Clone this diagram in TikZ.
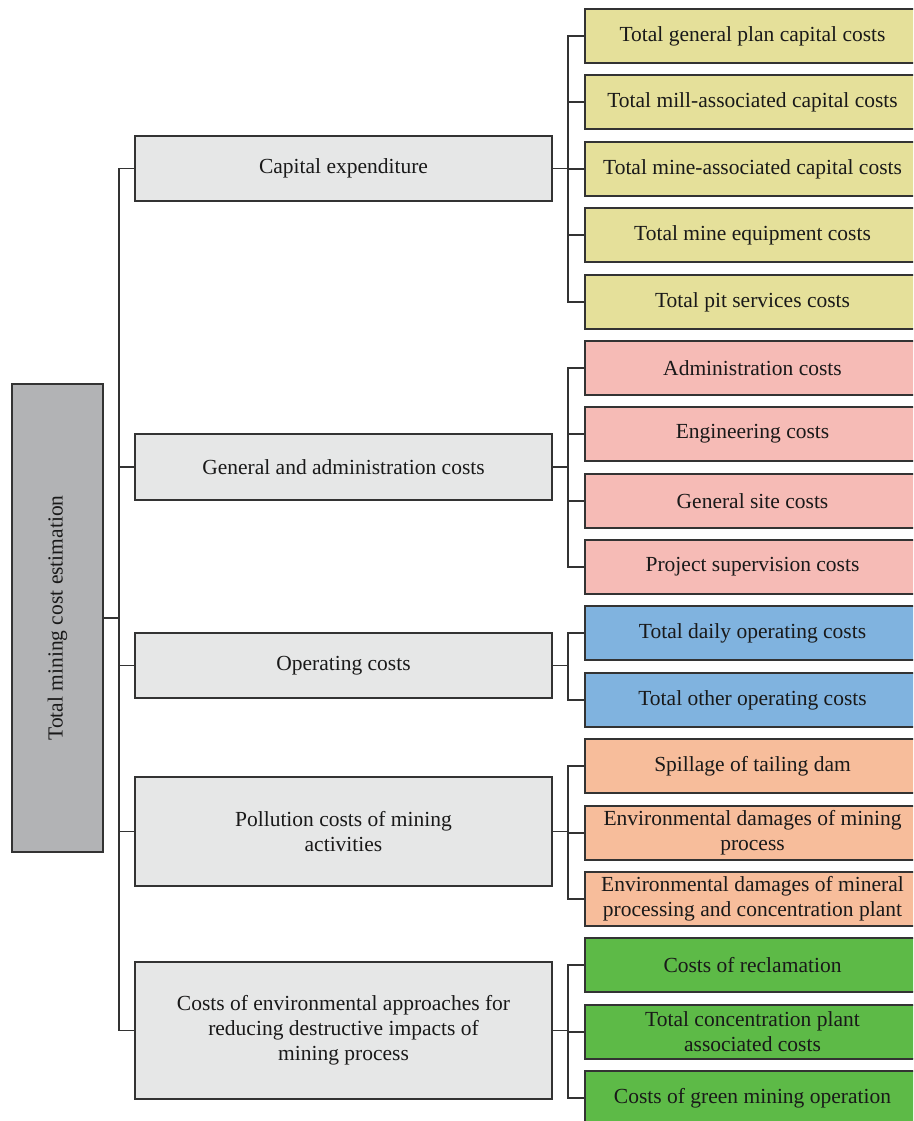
\documentclass[tikz,border=0pt]{standalone}
\usepackage{fontspec}
\setmainfont{Liberation Serif}
\definecolor{cyel}{HTML}{E5E09A}
\definecolor{cpink}{HTML}{F6BBB6}
\definecolor{cblue}{HTML}{80B3DF}
\definecolor{corange}{HTML}{F7BD9B}
\definecolor{cgreen}{HTML}{5DBA47}
\definecolor{cmid}{HTML}{E6E7E7}
\definecolor{cleft}{HTML}{B2B3B5}
\definecolor{cline}{HTML}{333333}
\begin{document}
\begin{tikzpicture}[x=1pt,y=-1pt,
  base/.style={draw=cline,line width=1.2pt,rectangle,inner sep=2pt,align=center,
     font=\fontsize{21.5}{25}\selectfont,text=black!90},
  leaf/.style={base,minimum width=335pt,minimum height=54pt},
  mid/.style={base,fill=cmid,minimum width=417pt},
  conn/.style={draw=cline,line width=1.2pt}]
\useasboundingbox (0,0) rectangle (913,1121);
\clip (0,0) rectangle (913,1121);
% root
\node[base,fill=cleft,minimum width=91pt,minimum height=468pt] (root) at (57.5,618) {};
\node[rotate=90,font=\fontsize{21.5}{25}\selectfont,text=black!90] (rootlabel) at (root.center) {Total mining cost estimation};
% middle
\node[mid,minimum height=65pt] (cap) at (343.5,168.5) {Capital expenditure};
\node[mid,minimum height=66pt] (gen) at (343.5,467) {General and administration costs};
\node[mid,minimum height=65pt] (op) at (343.5,665.5) {Operating costs};
\node[mid,minimum height=109pt] (pol) at (343.5,831.5) {Pollution costs of mining\\activities};
\node[mid,minimum height=137pt] (env) at (343.5,1030.5) {Costs of environmental approaches for\\reducing destructive impacts of\\mining process};
% leaves
\node[leaf,fill=cyel] (y1) at (752.5,36) {Total general plan capital costs};
\node[leaf,fill=cyel] (y2) at (752.5,102) {Total mill-associated capital costs};
\node[leaf,fill=cyel] (y3) at (752.5,169) {Total mine-associated capital costs};
\node[leaf,fill=cyel] (y4) at (752.5,235) {Total mine equipment costs};
\node[leaf,fill=cyel] (y5) at (752.5,302) {Total pit services costs};
\node[leaf,fill=cpink] (p1) at (752.5,368) {Administration costs};
\node[leaf,fill=cpink] (p2) at (752.5,434) {Engineering costs};
\node[leaf,fill=cpink] (p3) at (752.5,501) {General site costs};
\node[leaf,fill=cpink] (p4) at (752.5,567) {Project supervision costs};
\node[leaf,fill=cblue] (b1) at (752.5,633) {Total daily operating costs};
\node[leaf,fill=cblue] (b2) at (752.5,700) {Total other operating costs};
\node[leaf,fill=corange] (o1) at (752.5,766) {Spillage of tailing dam};
\node[leaf,fill=corange] (o2) at (752.5,833) {Environmental damages of mining\\process};
\node[leaf,fill=corange] (o3) at (752.5,899) {Environmental damages of mineral\\processing and concentration plant};
\node[leaf,fill=cgreen] (g1) at (752.5,965) {Costs of reclamation};
\node[leaf,fill=cgreen] (g2) at (752.5,1032) {Total concentration plant\\associated costs};
\node[leaf,fill=cgreen] (g3) at (752.5,1098) {Costs of green mining operation};
% bus coordinates
\coordinate (t0) at (119,618);
\coordinate (c0) at (568,168.5);
\coordinate (c1) at (568,467);
\coordinate (c2) at (568,665.5);
\coordinate (c3) at (568,831.5);
\coordinate (c4) at (568,1030.5);
% connectors
\draw[conn] (root.east) -- (t0);
\foreach \n in {cap,gen,op,pol,env} \draw[conn] (\n.west) -| (t0);
\draw[conn] (cap.east) -- (c0);
\foreach \n in {y1,y2,y3,y4,y5} \draw[conn] (\n.west) -| (c0);
\draw[conn] (gen.east) -- (c1);
\foreach \n in {p1,p2,p3,p4} \draw[conn] (\n.west) -| (c1);
\draw[conn] (op.east) -- (c2);
\foreach \n in {b1,b2} \draw[conn] (\n.west) -| (c2);
\draw[conn] (pol.east) -- (c3);
\foreach \n in {o1,o2,o3} \draw[conn] (\n.west) -| (c3);
\draw[conn] (env.east) -- (c4);
\foreach \n in {g1,g2,g3} \draw[conn] (\n.west) -| (c4);
\end{tikzpicture}
\end{document}
